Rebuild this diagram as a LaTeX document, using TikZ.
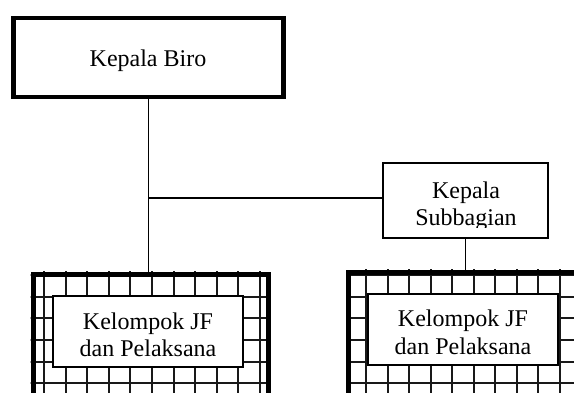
\documentclass[tikz,border=0pt]{standalone}
\usepackage{fontspec}
\setmainfont{Liberation Serif}
\begin{document}
\begin{tikzpicture}[x=1pt,y=-1pt,
  lbl/.style={font=\fontsize{24}{27.4}\selectfont, inner sep=0pt, align=center, anchor=base},
  headbox/.style={draw, line width=4.5pt, fill=white, minimum width=270pt, minimum height=79pt, inner sep=0pt},
  subbox/.style={draw, line width=2pt, fill=white, minimum width=165pt, minimum height=75pt, inner sep=0pt},
  framebox/.style={draw, line width=5pt, fill=white, inner sep=0pt},
  innerbox/.style={draw, line width=1.2pt, fill=white, minimum width=190pt, minimum height=71pt, inner sep=0pt},
  gridline/.style={line width=2pt, black!90},
  conn/.style={line width=1.6pt}
]
\useasboundingbox[fill=white] (0,0) rectangle (574,392);

% head box
\node[headbox] (biro) at (148.5,57.5) {};
\node[lbl] (birotxt) at (148,66.7) {Kepala Biro};

% sub box
\node[subbox] (sub) at (465.5,200.5) {};
\begin{scope}
  \clip (383,163) rectangle (548,227);
  \node[lbl] (subtxt) at (466,225.7) {Kepala\\Subbagian};
\end{scope}

% bottom-left frame with grid
\node[framebox, minimum width=235pt, minimum height=156pt] (fl) at (150.5,352) {};
\begin{scope}
  \clip (fl.north west) rectangle (fl.south east);
  \foreach \k in {-1,...,11} \draw[gridline] ({44+21.6*\k},260) -- ({44+21.6*\k},440);
  \foreach \k in {-1,...,6} \draw[gridline] (20,{296.5+21.7*\k}) -- (290,{296.5+21.7*\k});
\end{scope}
\draw[line width=5pt] (fl.north west) ++(2.5,2.5) rectangle ([xshift=-2.5pt,yshift=2.5pt]fl.south east);
\node[innerbox] (inl) at (148,331.5) {};
\node[lbl] (inltxt) at (148,356.7) {Kelompok JF\\dan Pelaksana};

% bottom-right frame with grid
\node[framebox, minimum width=351.5pt, minimum height=158pt] (fr) at (524.25,351) {};
\begin{scope}
  \clip (fr.north west) rectangle (fr.south east);
  \foreach \k in {-1,...,11} \draw[gridline] ({366+21.56*\k},260) -- ({366+21.56*\k},440);
  \foreach \k in {-1,...,6} \draw[gridline] (340,{296.5+21.7*\k}) -- (720,{296.5+21.7*\k});
\end{scope}
\draw[line width=5pt] (fr.north west) ++(2.5,2.5) rectangle ([xshift=-2.5pt,yshift=2.5pt]fr.south east);
\node[innerbox] (inr) at (463,329.5) {};
\node[lbl] (inrtxt) at (463,354.1) {Kelompok JF\\dan Pelaksana};

% connectors
\coordinate (hy) at (0,198);
\draw[conn] (biro.south) -- (biro.south |- fl.north);
\draw[conn] (biro.south |- hy) -- (sub.west |- hy);
\draw[conn] (sub.south) -- (sub.south |- fr.north);
\end{tikzpicture}
\end{document}
